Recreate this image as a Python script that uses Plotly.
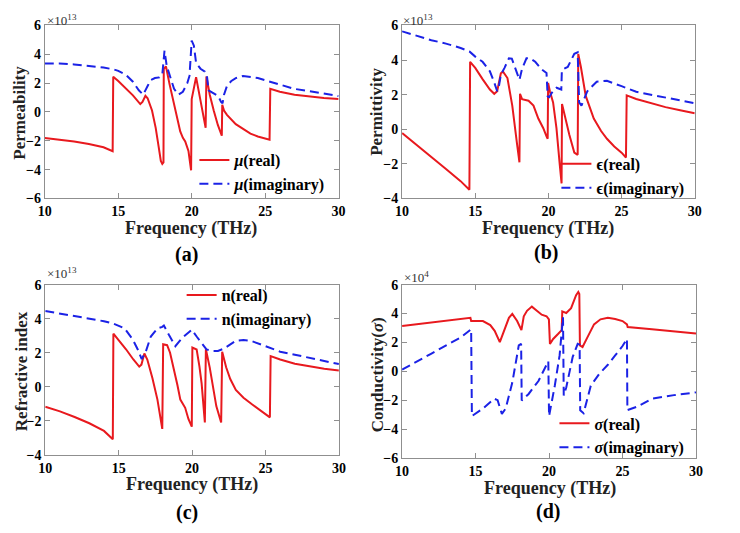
import plotly.graph_objects as go

# ---------------- data (y values in units of the axis exponent) ----------------
mu_real_f = [10.0, 11.0, 12.0, 13.0, 14.0, 14.62, 14.66, 15.0, 15.5, 16.0, 16.5, 16.65, 16.85, 17.0, 17.3, 17.55,
             17.75, 17.9, 18.0, 18.08, 18.1, 18.25, 18.5, 18.78, 19.0, 19.22, 19.4, 19.56, 19.78, 19.96, 20.0,
             20.1, 20.3, 20.45, 20.78, 20.95, 21.0, 21.1, 21.23, 21.5, 21.78, 22.05, 22.08, 22.2, 22.4, 23.0,
             23.5, 24.0, 24.5, 25.0, 25.3, 25.35, 26.0, 27.0, 28.0, 29.0, 30.0]
mu_real_v = [-1.80, -1.92, -2.05, -2.22, -2.45, -2.72, 2.45, 2.15, 1.65, 1.15, 0.55, 0.70, 1.12, 0.95, 0.10, -1.10,
             -2.40, -3.40, -3.60, -3.50, 3.00, 3.15, 1.90, 0.67, -0.30, -1.35, -1.80, -2.05, -2.70, -4.05, 0.90,
             1.40, 2.42, 1.60, -0.25, -1.10, 2.46, 1.80, 1.20, 0.10, -0.90, -1.65, 0.50, 0.10, -0.20, -0.85,
             -1.20, -1.50, -1.70, -1.85, -1.92, 1.60, 1.40, 1.20, 1.07, 0.97, 0.90]
mu_imag_f = [10.0, 11.0, 12.0, 13.0, 14.0, 14.7, 15.0, 15.5, 16.0, 16.4, 16.7, 17.0, 17.2, 17.5, 17.8, 18.0, 18.15,
             18.3, 18.5, 18.8, 19.1, 19.4, 19.7, 19.85, 20.0, 20.15, 20.3, 20.6, 20.9, 21.05, 21.15, 21.5, 21.8,
             22.0, 22.1, 22.2, 22.4, 22.7, 23.0, 23.5, 24.0, 24.5, 25.0, 25.5, 26.0, 27.0, 28.0, 29.0, 30.0]
mu_imag_v = [3.36, 3.36, 3.30, 3.20, 3.08, 2.95, 2.85, 2.60, 2.10, 1.50, 1.20, 1.80, 2.20, 2.35, 2.40, 2.60, 4.25,
             3.20, 2.50, 1.60, 1.20, 1.40, 2.00, 2.50, 4.95, 4.60, 3.40, 3.00, 2.80, 2.40, 1.50, 1.30, 1.10,
             0.70, 0.60, 1.20, 1.80, 2.15, 2.35, 2.50, 2.45, 2.35, 2.20, 2.05, 1.85, 1.60, 1.45, 1.25, 1.10]

eps_real_f = [10.0, 11.0, 12.0, 13.0, 14.0, 14.6, 14.65, 15.0, 15.5, 16.0, 16.3, 16.5, 16.75, 16.9, 17.2, 17.53,
              17.86, 18.02, 18.06, 18.2, 18.64, 18.98, 19.31, 19.65, 19.87, 19.95, 19.98, 20.1, 20.32, 20.55,
              20.77, 20.9, 20.93, 21.1, 21.43, 21.77, 22.0, 22.04, 22.22, 22.55, 23.1, 23.6, 24.0, 24.5, 25.0,
              25.3, 25.35, 26.0, 27.0, 28.0, 29.0, 30.0]
eps_real_v = [-0.22, -0.90, -1.60, -2.30, -3.00, -3.50, 3.90, 3.55, 2.90, 2.30, 2.05, 2.20, 3.24, 3.33, 2.96, 1.37,
              -0.88, -1.91, 2.05, 1.74, 1.65, 1.37, 0.62, 0.06, -0.41, -0.55, 2.68, 2.20, 1.55, 0.06,
              -2.00, -3.13, 1.46, 0.80, -0.32, -1.35, -1.48, 4.36, 3.60, 1.93, 0.62, -0.10, -0.55, -1.00, -1.35,
              -1.63, 1.96, 1.75, 1.50, 1.28, 1.10, 0.93]
eps_imag_f = [10.0, 11.0, 12.0, 13.0, 14.0, 14.6, 15.0, 15.5, 16.0, 16.3, 16.5, 16.6, 16.75, 17.0, 17.3, 17.5,
              17.75, 18.02, 18.2, 18.5, 18.75, 19.1, 19.55, 19.87, 19.95, 20.05, 20.3, 20.55, 20.88, 20.92,
              21.32, 21.77, 22.0, 22.1, 22.26, 22.66, 23.3, 24.0, 25.0, 26.0, 27.0, 28.0, 29.0, 30.0]
eps_imag_v = [5.66, 5.40, 5.15, 4.95, 4.70, 4.50, 4.20, 3.90, 3.35, 2.70, 2.20, 2.40, 3.15, 3.55, 4.10, 4.08,
              3.52, 2.86, 3.50, 4.10, 4.10, 3.90, 3.45, 3.25, 1.90, 1.85, 2.20, 2.40, 2.30, 3.43,
              3.60, 4.36, 4.45, 1.55, 1.37, 2.20, 2.75, 2.80, 2.49, 2.17, 2.00, 1.83, 1.65, 1.50]

n_real_f = [10.0, 11.0, 12.0, 13.0, 14.0, 14.6, 14.64, 15.0, 15.5, 16.0, 16.4, 16.55, 16.75, 16.95, 17.3, 17.64,
            17.85, 17.97, 18.03, 18.3, 18.5, 18.75, 19.0, 19.2, 19.53, 19.75, 19.98, 20.02, 20.31, 20.5, 20.65,
            20.87, 20.94, 21.2, 21.45, 21.65, 21.98, 22.05, 22.32, 22.6, 22.98, 23.5, 24.1, 24.7, 25.3, 25.35,
            26.0, 27.0, 28.0, 29.0, 30.0]
n_real_v = [-1.18, -1.45, -1.78, -2.15, -2.60, -3.09, 3.12, 2.75, 2.20, 1.60, 1.18, 1.30, 1.95, 1.60, 0.50, -0.76,
            -1.80, -2.48, 2.50, 2.44, 2.00, 1.14, 0.10, -0.76, -1.24, -1.90, -2.35, 2.30, 2.19, 1.20, 0.19,
            -2.10, 2.20, 1.14, -0.10, -1.14, -2.10, 2.05, 1.14, 0.45, -0.19, -0.65, -1.05, -1.40, -1.80, 1.80,
            1.60, 1.35, 1.18, 1.05, 0.95]
n_imag_f = [10.0, 11.0, 12.0, 13.0, 14.0, 14.63, 15.4, 15.97, 16.3, 16.57, 16.86, 17.19, 17.64, 17.97, 18.08,
            18.42, 18.86, 19.31, 19.98, 20.31, 20.65, 20.98, 21.43, 21.76, 22.2, 22.98, 23.5, 24.0, 25.0, 26.0,
            27.0, 28.0, 29.0, 30.0]
n_imag_v = [4.45, 4.30, 4.15, 4.00, 3.85, 3.71, 3.43, 2.76, 2.19, 1.62, 2.10, 2.95, 3.43, 3.52, 3.60,
            3.05, 2.38, 2.86, 3.35, 2.95, 2.57, 2.19, 2.10, 2.10, 2.25, 2.70, 2.75, 2.70, 2.38, 2.06,
            1.88, 1.71, 1.50, 1.33]

sig_real_f = [10.0, 11.0, 12.0, 13.0, 14.0, 14.65, 14.7, 15.5, 16.0, 16.3, 16.65, 16.94, 17.27, 17.5, 17.83,
              18.12, 18.28, 18.5, 18.83, 19.17, 19.5, 19.83, 19.99, 20.06, 20.28, 20.61, 20.86, 20.9, 21.17,
              21.5, 21.84, 21.99, 22.06, 22.1, 22.28, 22.61, 23.06, 23.5, 24.0, 24.5, 25.0, 25.3, 25.35, 27.0,
              28.5, 30.0]
sig_real_v = [3.14, 3.25, 3.37, 3.50, 3.62, 3.70, 3.48, 3.48, 3.20, 2.80, 2.02, 2.80, 3.70, 3.97, 3.48,
              2.85, 3.81, 4.19, 4.48, 4.19, 3.92, 3.81, 3.59, 1.90, 2.24, 2.58, 2.85, 4.15, 4.04,
              4.37, 5.27, 5.49, 5.35, 1.79, 1.68, 2.35, 3.25, 3.60, 3.70, 3.62, 3.48, 3.25, 3.07, 2.91,
              2.75, 2.62]
sig_imag_f = [10.0, 11.0, 12.0, 13.0, 14.0, 14.7, 14.75, 15.5, 16.27, 16.5, 16.79, 17.05, 17.5, 17.94, 18.1,
              18.14, 18.61, 19.28, 19.83, 19.95, 20.0, 20.39, 20.72, 20.95, 21.0, 21.17, 21.61, 21.95, 22.08,
              22.12, 22.35, 22.84, 23.4, 24.0, 24.5, 25.0, 25.3, 25.33, 26.0, 27.0, 28.5, 30.0]
sig_imag_v = [0.11, 0.65, 1.23, 1.80, 2.35, 2.91, -3.10, -2.58, -1.90, -2.00, -2.95, -2.58, -0.78, 1.79, 1.90,
              -2.02, -1.57, -0.67, 0.45, 0.70, -3.10, -1.00, 1.12, 3.74, -1.68, -1.12, 1.00, 1.90, 1.85,
              -2.70, -2.90, -1.00, -0.20, 0.45, 1.10, 1.75, 2.25, -2.69, -2.45, -1.90, -1.65, -1.46]

x_ticks = [10, 15, 20, 25, 30]
panel_labels = ["(a)", "(b)", "(c)", "(d)"]
y_titles = ["Permeability", "Permittivity", "Refractive index", "Conductivity(<i>σ</i>)"]
x_title = "Frequency (THz)"
exponents = ["13", "13", "13", "4"]
legend_names = [("<i>μ</i>(real)", "<i>μ</i>(imaginary)"),
                ("ϵ(real)", "ϵ(imaginary)"),
                ("n(real)", "n(imaginary)"),
                ("<i>σ</i>(real)", "<i>σ</i>(imaginary)")]

# ---------------- layout geometry ----------------
W, H = 740, 533
def px(x): return x / W
def py(y): return 1 - y / H

FONT = "Liberation Serif, Times New Roman, serif"
RED = "#e8191e"
BLUE = "#1b22e6"
AXC = "#8f8f8f"

panels = [
    dict(xd=(38.5, 338), yd=(19, 197), yr=(-6, 6), yt=list(range(-6, 7, 2)),
         xt_pos=(188, 228), yt_pos=(13, 109), exp_pos=(39, 13), lab_pos=(183, 255), leg=(191, 140),
         data=(mu_real_f, mu_real_v, mu_imag_f, mu_imag_v)),
    dict(xd=(402.7, 701), yd=(19, 197), yr=(-4, 6), yt=list(range(-4, 7, 2)),
         xt_pos=(551, 228), yt_pos=(377, 108), exp_pos=(402, 13), lab_pos=(549, 253), leg=(560, 144),
         data=(eps_real_f, eps_real_v, eps_imag_f, eps_imag_v)),
    dict(xd=(39, 338.3), yd=(285.7, 460.7), yr=(-4, 6), yt=list(range(-4, 7, 2)),
         xt_pos=(189, 491), yt_pos=(15, 375), exp_pos=(39, 274), lab_pos=(183, 520), leg=(178, 279),
         data=(n_real_f, n_real_v, n_imag_f, n_imag_v)),
    dict(xd=(402.7, 702.3), yd=(285.7, 464), yr=(-6, 6), yt=list(range(-6, 7, 2)),
         xt_pos=(553, 495), yt_pos=(378, 378), exp_pos=(403, 278), lab_pos=(551, 519), leg=(558, 411),
         data=(sig_real_f, sig_real_v, sig_imag_f, sig_imag_v)),
]

fig = go.Figure()
layout = dict(width=W, height=H, margin=dict(l=0, r=0, t=0, b=0),
              paper_bgcolor="white", plot_bgcolor="white", showlegend=True)
annotations = []

for i, p in enumerate(panels):
    k = "" if i == 0 else str(i + 1)
    xa, ya = "x" + k, "y" + k
    lg = "legend" + k
    rf, rv, im_f, im_v = p["data"]
    fig.add_trace(go.Scatter(x=rf, y=rv, mode="lines", name=legend_names[i][0],
                             line=dict(color=RED, width=2), xaxis=xa, yaxis=ya, legend=lg))
    fig.add_trace(go.Scatter(x=im_f, y=im_v, mode="lines", name=legend_names[i][1],
                             line=dict(color=BLUE, width=2, dash="9px,5px"), xaxis=xa, yaxis=ya, legend=lg))
    common = dict(showline=True, linecolor=AXC, linewidth=1, mirror="ticks", ticks="inside",
                  ticklen=5, tickcolor=AXC, showgrid=False, zeroline=False,
                  tickfont=dict(family=FONT, size=14, color="black", weight="bold"))
    layout["xaxis" + k] = dict(domain=[px(p["xd"][0]), px(p["xd"][1])], range=[10, 30],
                               tickvals=x_ticks, anchor=ya, **common)
    layout["yaxis" + k] = dict(domain=[py(p["yd"][1]), py(p["yd"][0])], range=list(p["yr"]),
                               tickvals=p["yt"], anchor=xa, **common)
    layout[lg] = dict(x=px(p["leg"][0]), y=py(p["leg"][1]), xanchor="left", yanchor="top",
                      bgcolor="rgba(0,0,0,0)", borderwidth=0, itemwidth=30, tracegroupgap=0,
                      font=dict(family=FONT, size=16, color="black", weight="bold"))
    annotations.append(dict(text=x_title, x=px(p["xt_pos"][0]), y=py(p["xt_pos"][1]), xref="paper",
                            yref="paper", showarrow=False, xanchor="center", yanchor="middle",
                            font=dict(family=FONT, size=18, color="#222", weight="bold")))
    annotations.append(dict(text=y_titles[i], x=px(p["yt_pos"][0]), y=py(p["yt_pos"][1]), xref="paper",
                            yref="paper", showarrow=False, xanchor="center", yanchor="middle", textangle=-90,
                            font=dict(family=FONT, size=17, color="#222", weight="bold")))
    annotations.append(dict(text="×10<sup>" + exponents[i] + "</sup>", x=px(p["exp_pos"][0]),
                            y=py(p["exp_pos"][1]), xref="paper", yref="paper", showarrow=False,
                            xanchor="left", yanchor="middle",
                            font=dict(family=FONT, size=13, color="#333")))
    annotations.append(dict(text=panel_labels[i], x=px(p["lab_pos"][0]), y=py(p["lab_pos"][1]),
                            xref="paper", yref="paper", showarrow=False, xanchor="center", yanchor="middle",
                            font=dict(family=FONT, size=20, color="black", weight="bold")))

layout["annotations"] = annotations
fig.update_layout(**layout)
fig.write_html("out.html")
